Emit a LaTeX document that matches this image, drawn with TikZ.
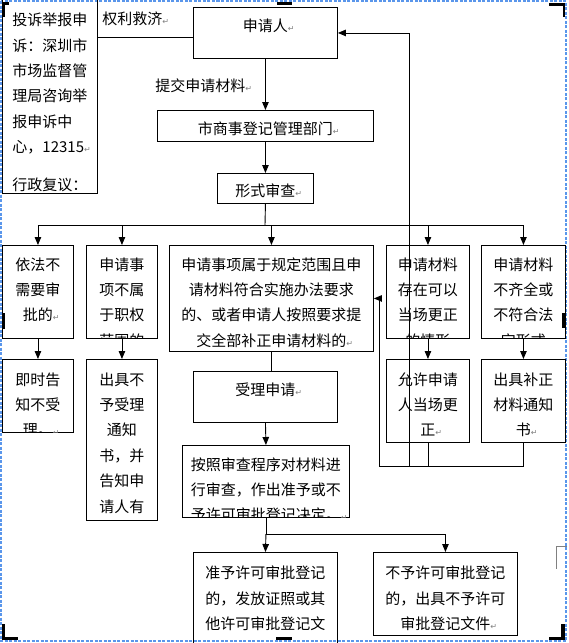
\documentclass[tikz,border=0pt]{standalone}
\usepackage{fontspec}
\newfontfamily\cjk{Noto Sans CJK SC}
\newfontfamily\sym{DejaVu Sans}
\usetikzlibrary{arrows.meta}

\definecolor{frame}{RGB}{90,150,235}
\newcommand{\ret}{\rlap{\sym\fontsize{8}{8}\selectfont\color{gray}↵}}

\tikzset{
	box/.style={draw, anchor=north west, inner sep=0pt},
	txt/.style={font=\cjk\fontsize{15}{25.4}\selectfont, align=center, inner sep=0pt, anchor=north},
	arr/.style={-{Triangle[length=8pt,width=6.5pt]}},
}

\begin{document}
\begin{tikzpicture}[x=1pt,y=-1pt,line width=0.9pt]
	\useasboundingbox (0,0) rectangle (569,643);

	% text box frame and handles
	\draw[frame, line width=1.1pt, dash pattern=on 3pt off 1.5pt] (1,1) rectangle (566,641);
	\fill (2,2) rectangle (9,4.5);
	\fill (2,2) rectangle (4.5,17);
	\fill (277,2) rectangle (292,4.5);
	\fill (549,3) rectangle (565,5.5);
	\fill (562.5,3) rectangle (565,17);
	\fill (2,313) rectangle (5,329);
	\fill (562,313) rectangle (565,328);
	\fill (276,637) rectangle (292,640);
	\fill (2,624) rectangle (4.5,640);
	\fill (2,637) rectangle (18,640);
	\fill (549,637) rectangle (565,640);
	\fill (561,624) rectangle (565,640);
	\draw[gray, line width=0.8pt] (567,546) -- (556,546) -- (556,569);

	% boxes
	\node[box, minimum width=95pt, minimum height=200pt, anchor=south west] (cmp) at (2,194) {};
	\node[txt, align=left, anchor=north west] (cmp-t) at (12,12.5) {投诉举报申\\诉：深圳市\\市场监督管\\理局咨询举\\报申诉中\\心，12315\ret\\[12.6pt]行政复议：};

	\node[box, minimum width=144pt, minimum height=51pt] (app) at (193,7) {};
	\node[txt] (app-t) at ([yshift=-11.5pt]app.north) {申请人\ret};

	\node[box, minimum width=216pt, minimum height=31pt] (dept) at (157,110) {};
	\node[txt] (dept-t) at ([yshift=-11pt]dept.north) {市商事登记管理部门\ret};

	\node[box, minimum width=96pt, minimum height=30pt] (form) at (217,173) {};
	\node[txt] (form-t) at ([yshift=-10.5pt]form.north) {形式审查\ret};

	\node[box, minimum width=71pt, minimum height=93pt] (nolaw) at (2,245) {};
	\node[txt] (nolaw-t) at ([yshift=-12pt]nolaw.north) {依法不\\需要审\\批的\ret};

	\node[box, minimum width=71pt, minimum height=93pt] (outside) at (86,245) {};
	\begin{scope}
		\clip (outside.south west) rectangle (outside.north east);
		\node[txt] (outside-t) at ([yshift=-12pt]outside.north) {申请事\\项不属\\于职权\\范围的};
	\end{scope}

	\node[box, minimum width=204pt, minimum height=106pt] (accept) at (169,245) {};
	\node[txt] (accept-t) at ([yshift=-12pt]accept.north) {申请事项属于规定范围且申\\请材料符合实施办法要求\\的、或者申请人按照要求提\\交全部补正申请材料的\ret};

	\node[box, minimum width=83pt, minimum height=93pt] (fix) at (386,245) {};
	\begin{scope}
		\clip (fix.south west) rectangle (fix.north east);
		\node[txt] (fix-t) at ([yshift=-12pt]fix.north) {申请材料\\存在可以\\当场更正\\的情形};
	\end{scope}

	\node[box, minimum width=84pt, minimum height=93pt] (incomp) at (481,245) {};
	\begin{scope}
		\clip (incomp.south west) rectangle (incomp.north east);
		\node[txt] (incomp-t) at ([yshift=-12pt]incomp.north) {申请材料\\不齐全或\\不符合法\\定形式};
	\end{scope}

	\node[box, minimum width=71pt, minimum height=73pt] (tell) at (2,359) {};
	\begin{scope}
		\clip (tell.south west) rectangle (tell.north east);
		\node[txt] (tell-t) at ([yshift=-13pt]tell.north) {即时告\\知不受\\理。\ret};
	\end{scope}

	\node[box, minimum width=71pt, minimum height=161pt] (refuse) at (86,359) {};
	\node[txt] (refuse-t) at ([yshift=-13pt]refuse.north) {出具不\\予受理\\通知\\书，并\\告知申\\请人有};

	\node[box, minimum width=83pt, minimum height=83pt] (allow) at (386,359) {};
	\node[txt] (allow-t) at ([yshift=-13pt]allow.north) {允许申请\\人当场更\\正\ret};

	\node[box, minimum width=84pt, minimum height=83pt] (notice) at (481,359) {};
	\node[txt] (notice-t) at ([yshift=-13pt]notice.north) {出具补正\\材料通知\\书\ret};

	\node[box, minimum width=144pt, minimum height=51pt] (recv) at (193,371) {};
	\node[txt] (recv-t) at ([yshift=-11.5pt]recv.north) {受理申请\ret};

	\node[box, minimum width=167pt, minimum height=72pt] (exam) at (182,445) {};
	\begin{scope}
		\clip (exam.south west) rectangle (exam.north east);
		\node[txt] (exam-t) at ([yshift=-12pt]exam.north) {按照审查程序对材料进\\行审查，作出准予或不\\予许可审批登记决定。\ret};
	\end{scope}

	\node[box, minimum width=144pt, minimum height=100pt] (grant) at (193,552) {};
	\node[txt] (grant-t) at ([yshift=-13.5pt]grant.north) {准予许可审批登记\\的，发放证照或其\\他许可审批登记文};

	\node[box, minimum width=144pt, minimum height=83pt] (deny) at (373,552) {};
	\node[txt] (deny-t) at ([yshift=-13.5pt]deny.north) {不予许可审批登记\\的，出具不予许可\\审批登记文件\ret};

	% connectors
	\draw ([yshift=-4.5pt]app.west) -- ([yshift=-4.5pt]app.west -| cmp.east);
	\node[txt, anchor=west] (rights) at (102,19) {权利救济\ret};

	\draw[arr] (app.south) -- (dept.north);
	\node[txt, anchor=west] (submit) at (155,86) {提交申请材料\ret};
	\draw[arr] (dept.south) -- (form.north);

	\coordinate (split) at (265,225);
	\draw (form.south) -- (split);
	\draw (nolaw.north |- split) -- (incomp.north |- split);
	\foreach \n in {nolaw,outside,accept,fix,incomp}
		\draw[arr] (\n.north |- split) -- (\n.north);

	\draw[arr] (nolaw.south) -- (tell.north);
	\draw[arr] (outside.south) -- (refuse.north);
	\draw[arr] (fix.south) -- (allow.north);
	\draw[arr] (incomp.south) -- (notice.north);

	\draw (accept.south) -- (accept.south |- recv.north);
	\draw[arr] (recv.south) -- (exam.north);

	\coordinate (fork) at (265,534);
	\draw (exam.south) -- (exam.south |- fork) -- (fork -| deny.north);
	\draw[arr] (exam.south |- fork) -- (grant.north);
	\draw[arr] (fork -| deny.north) -- (deny.north);

	\coordinate (back) at (379,466);
	\coordinate (reapply) at (409,466);
	\draw (notice.south) -- (notice.south |- back) -- (back);
	\draw (allow.south) -- (allow.south |- back);
	\draw[arr] (back) -- (back |- accept.east) -- (accept.east);
	\draw[arr] (reapply) -- (reapply |- app.east) -- (app.east);

\end{tikzpicture}
\end{document}
